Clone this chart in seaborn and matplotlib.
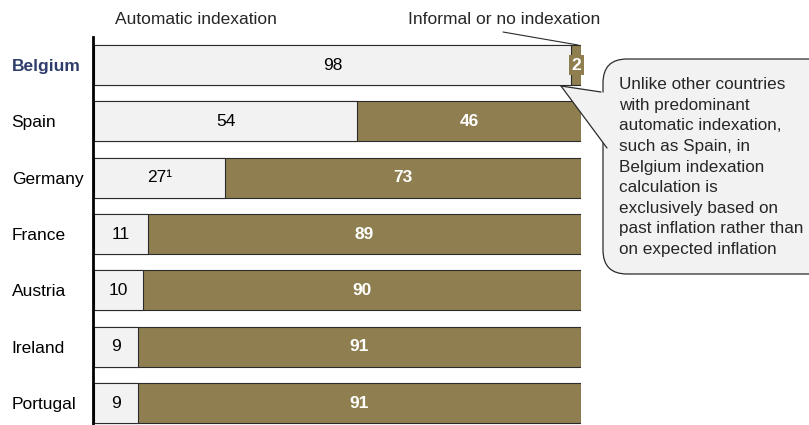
import numpy as np
import pandas as pd
import seaborn as sns
import matplotlib.pyplot as plt
from matplotlib.patches import FancyBboxPatch, Polygon
from matplotlib.lines import Line2D

countries = ["Belgium", "Spain", "Germany", "France", "Austria", "Ireland", "Portugal"]
automatic = [98, 54, 27, 11, 10, 9, 9]
informal = [2, 46, 73, 89, 90, 91, 91]
auto_labels = ["98", "54", "27¹", "11", "10", "9", "9"]

light = "#F2F2F2"
brown = "#8F7F50"
edge = "#2B2B2B"

sns.set_style("white")
plt.rcParams["font.family"] = ["Liberation Sans", "DejaVu Sans"]
fs = 12.5

df = pd.DataFrame({"country": countries, "automatic": automatic, "informal": informal})
df["total"] = df["automatic"] + df["informal"]

W, H = 809, 425
fig = plt.figure(figsize=(W / 100, H / 100), dpi=100)
ax = fig.add_axes([94 / W, 0, 487 / W, 388 / H])

sns.barplot(data=df, x="total", y="country", orient="h", color=brown, width=0.71,
            edgecolor=edge, linewidth=0.8, saturation=1, ax=ax)
sns.barplot(data=df, x="automatic", y="country", orient="h", color=light, width=0.71,
            edgecolor=edge, linewidth=0.8, saturation=1, ax=ax)

ax.set_xlim(0, 100)
ax.set_ylim(6.39, -0.5)
ax.set_xlabel("")
ax.set_ylabel("")
ax.set_xticks([])
for s in ["top", "right", "bottom"]:
    ax.spines[s].set_visible(False)
ax.spines["left"].set_linewidth(2)
ax.spines["left"].set_color("black")
ax.spines["left"].set_position(("outward", 1))

ax.tick_params(axis="y", length=0, pad=58.3, labelsize=fs, labelcolor="black")
for lbl in ax.get_yticklabels():
    lbl.set_ha("left")
    if lbl.get_text() == "Belgium":
        lbl.set_color("#2E3D6B")
        lbl.set_fontweight("bold")

for i, row in df.iterrows():
    ax.text(row["automatic"] / 2, i, auto_labels[i], ha="center", va="center",
            fontsize=fs, color="black")
    xi = row["automatic"] + row["informal"] / 2
    if row["informal"] < 5:
        ax.text(xi, i, str(row["informal"]), ha="center", va="center", fontsize=fs,
                color="white", fontweight="bold",
                bbox=dict(boxstyle="square,pad=0.15", fc=brown, ec="none"))
    else:
        ax.text(xi, i, str(row["informal"]), ha="center", va="center", fontsize=fs,
                color="white", fontweight="bold")

# headers
fig.text(115 / W, 1 - 20 / H, "Automatic indexation", fontsize=fs, va="center", ha="left")
fig.text(408 / W, 1 - 20 / H, "Informal or no indexation", fontsize=fs, va="center", ha="left")
fig.add_artist(Line2D([503 / W, 578 / W], [1 - 32 / H, 1 - 45 / H], color=edge, lw=0.8))

# speech bubble (pixel coords -> inches)
def px(x, y):
    return (x / 100, (H - y) / 100)

tr = fig.dpi_scale_trans
bx0, by0 = px(603, 274)
bubble = FancyBboxPatch((bx0 + 0.24, by0 + 0.24), (860 - 603) / 100 - 0.48, (274 - 59) / 100 - 0.48,
                        boxstyle="round,pad=0.24", fc=light, ec=edge, lw=0.9,
                        transform=tr, zorder=5)
fig.add_artist(bubble)
tip = px(561, 86)
p1 = px(601, 92)
p2 = px(607, 148)
tail = Polygon([tip, p1, px(615, 95), px(615, 148), p2], closed=True, fc=light, ec="none",
               transform=tr, zorder=6)
fig.add_artist(tail)
fig.add_artist(Line2D([tip[0], p1[0]], [tip[1], p1[1]], color=edge, lw=0.9, transform=tr, zorder=7))
fig.add_artist(Line2D([tip[0], p2[0]], [tip[1], p2[1]], color=edge, lw=0.9, transform=tr, zorder=7))

note = ("Unlike other countries\nwith predominant\nautomatic indexation,\nsuch as Spain, in\n"
        "Belgium indexation\ncalculation is\nexclusively based on\npast inflation rather than\n"
        "on expected inflation")
tx, ty = px(619, 77)
fig.text(tx, ty, note, transform=tr, fontsize=12.3, va="top", ha="left",
         linespacing=1.47, zorder=8)

fig.savefig("out.png", dpi=100)
